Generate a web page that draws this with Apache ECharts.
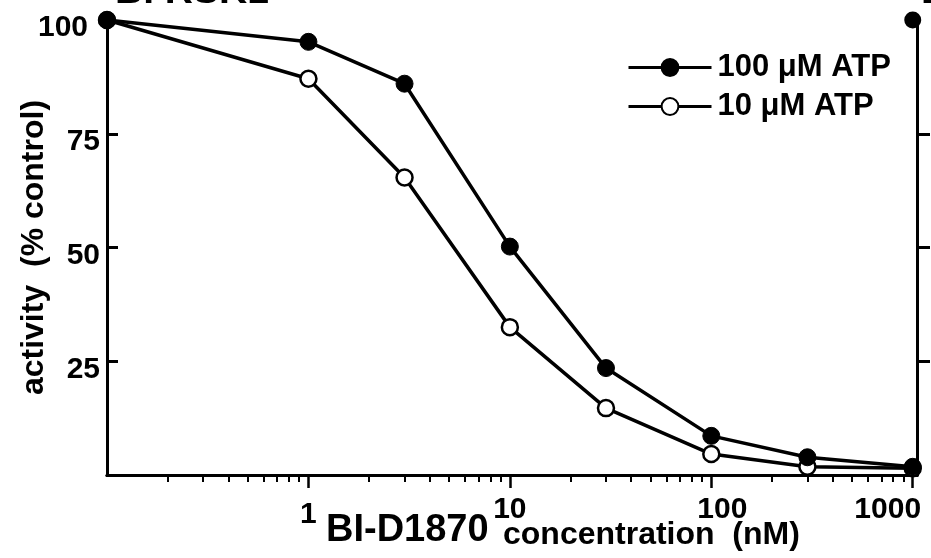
<!DOCTYPE html>
<html>
<head>
<meta charset="utf-8">
<script src="https://cdn.jsdelivr.net/npm/echarts@6/dist/echarts.min.js"></script>
<style>
  html, body { margin: 0; padding: 0; background: #fff; }
  #chart { width: 931px; height: 558px; }
</style>
</head>
<body>
<div id="chart"></div>
<script>
// ---- data ----
const concentrations = [0.1, 1, 3, 10, 30, 100, 300, 1000];           // nM
const atp100 = [100, 95.2, 86.0, 50.2, 23.5, 8.6, 3.9, 1.8];          // 100 µM ATP (filled)
const atp10  = [100, 87.1, 65.4, 32.5, 14.7, 4.6, 1.8, 1.5];          // 10 µM ATP (open)
const xMajorTicks = [1, 10, 100, 1000];
const xMinorTicks = [0.2, 0.3, 0.4, 0.5, 0.6, 0.7, 0.8, 0.9,
                     2, 3, 4, 5, 6, 7, 8, 9,
                     20, 30, 40, 50, 60, 70, 80, 90,
                     200, 300, 400, 500, 600, 700, 800, 900];
const yTickLabels = [25, 50, 75, 100];
const seriesNames = ['100 \u03bcM ATP', '10 \u03bcM ATP'];
const panelDStart = [[1000, 100]];   // first point of neighbouring panel D (clipped at right)

const FONT = '"Liberation Sans", Arial, Helvetica, sans-serif';
const chart = echarts.init(document.getElementById('chart'), null, { renderer: 'canvas' });

const gridBox = { left: 107, right: 14, top: 20, bottom: 83, containLabel: false, outerBoundsMode: 'none' };
const tok = (extra) => Object.assign({ fontSize: 30, fontWeight: 'bold', fontFamily: FONT, color: '#000' }, extra);

const option = {
  backgroundColor: '#fff',
  animation: false,
  grid: [
    Object.assign({}, gridBox),
    Object.assign({}, gridBox)
  ],
  xAxis: [
    { // main bottom axis: major ticks + labels
      type: 'log', gridIndex: 0, position: 'bottom', min: 0.1, max: 1050, logBase: 10,
      axisLine: { show: true, lineStyle: { color: '#000', width: 3 } },
      axisTick: { show: true, inside: false, length: 13, lineStyle: { color: '#000', width: 2.5 }, customValues: xMajorTicks },
      axisLabel: {
        show: true, margin: 20, customValues: xMajorTicks,
        formatter: function (v) {
          if (v === 1) return '{a|1}';
          if (v === 100) return '{c|100}';
          if (v === 1000) return '{d|1000}';
          return '{b|' + v + '}';
        },
        rich: {
          a: tok({ padding: [5, 0, 0, 0] }),
          b: tok({}),
          c: tok({ padding: [0, 0, 0, 22] }),
          d: tok({ padding: [0, 50, 0, 0] })
        }
      },
      splitLine: { show: false }, minorTick: { show: false }
    },
    { // top border line
      type: 'log', gridIndex: 0, position: 'top', min: 0.1, max: 1050,
      axisLine: { show: true, lineStyle: { color: '#000', width: 3 } },
      axisTick: { show: false }, axisLabel: { show: false }, splitLine: { show: false }
    },
    { // minor ticks on the bottom axis
      type: 'log', gridIndex: 1, position: 'bottom', min: 0.1, max: 1050,
      axisLine: { show: false },
      axisTick: { show: true, inside: false, length: 7, lineStyle: { color: '#000', width: 2 }, customValues: xMinorTicks },
      axisLabel: { show: false }, splitLine: { show: false }
    }
  ],
  yAxis: [
    {
      type: 'value', gridIndex: 0, position: 'left', min: 0, max: 100, interval: 25,
      name: 'activity  (% control)', nameLocation: 'middle', nameGap: 57, nameRotate: 90,
      nameMoveOverlap: false,
      nameTextStyle: { fontSize: 32, fontWeight: 'bold', fontFamily: FONT, color: '#000' },
      axisLine: { show: true, lineStyle: { color: '#000', width: 3 } },
      axisTick: { show: true, inside: true, length: 11, lineStyle: { color: '#000', width: 3 }, customValues: [25, 50, 75] },
      axisLabel: {
        show: true, margin: 7, customValues: yTickLabels,
        formatter: function (v) { return v === 100 ? '{h|100}' : '{n|' + v + '}'; },
        rich: {
          n: tok({ padding: [16, 0, 0, 0] }),
          h: tok({ padding: [16, 12, 0, 0] })
        }
      },
      splitLine: { show: false }
    },
    { // right axis (neighbouring panel's axis) with outward ticks
      type: 'value', gridIndex: 0, position: 'right', min: 0, max: 100, interval: 25,
      axisLine: { show: true, lineStyle: { color: '#000', width: 3 } },
      axisTick: { show: true, inside: false, length: 13, lineStyle: { color: '#000', width: 3 }, customValues: [25, 50, 75] },
      axisLabel: { show: false }, splitLine: { show: false }
    },
    {
      type: 'value', gridIndex: 1, min: 0, max: 100, show: false
    }
  ],
  legend: {
    show: true, orient: 'vertical', left: 622, top: 47, padding: 5,
    itemWidth: 83, itemHeight: 21, itemGap: 8,
    data: [seriesNames[0], seriesNames[1]],
    lineStyle: { width: 3, color: '#000' },
    textStyle: { fontSize: 31, fontWeight: 'bold', fontFamily: FONT, color: '#000', padding: [0, 0, 0, 1] }
  },
  series: [
    {
      name: seriesNames[1], type: 'line', xAxisIndex: 0, yAxisIndex: 0, z: 3,
      data: concentrations.map((c, i) => [c, atp10[i]]),
      symbol: 'circle', symbolSize: 16, clip: false,
      lineStyle: { color: '#000', width: 3.5 },
      itemStyle: { color: '#fff', borderColor: '#000', borderWidth: 2.5 }
    },
    {
      name: seriesNames[0], type: 'line', xAxisIndex: 0, yAxisIndex: 0, z: 4,
      data: concentrations.map((c, i) => [c, atp100[i]]),
      symbol: 'circle', symbolSize: 17, clip: false,
      lineStyle: { color: '#000', width: 3.5 },
      itemStyle: { color: '#000', borderColor: '#000', borderWidth: 1 }
    },
    {
      name: 'panel D', type: 'scatter', xAxisIndex: 0, yAxisIndex: 0, z: 5,
      data: panelDStart, symbol: 'circle', symbolSize: 17, clip: false,
      itemStyle: { color: '#000', opacity: 1 }
    }
  ],
  graphic: [
    { type: 'text', left: 115, top: -27, silent: true,
      style: { text: 'B. RSK1', fontSize: 39, fontWeight: 'bold', fontFamily: FONT, fill: '#000' } },
    { type: 'text', left: 921, top: -27, silent: true,
      style: { text: 'D', fontSize: 39, fontWeight: 'bold', fontFamily: FONT, fill: '#000' } },
    { type: 'text', left: 326, top: 512, silent: true,
      style: { text: 'BI-D1870', fontSize: 38, fontWeight: 'bold', fontFamily: FONT, fill: '#000' } },
    { type: 'text', left: 503, top: 519, silent: true,
      style: { text: 'concentration  (nM)', fontSize: 32, fontWeight: 'bold', fontFamily: FONT, fill: '#000' } }
  ]
};
chart.setOption(option);
</script>
</body>
</html>
